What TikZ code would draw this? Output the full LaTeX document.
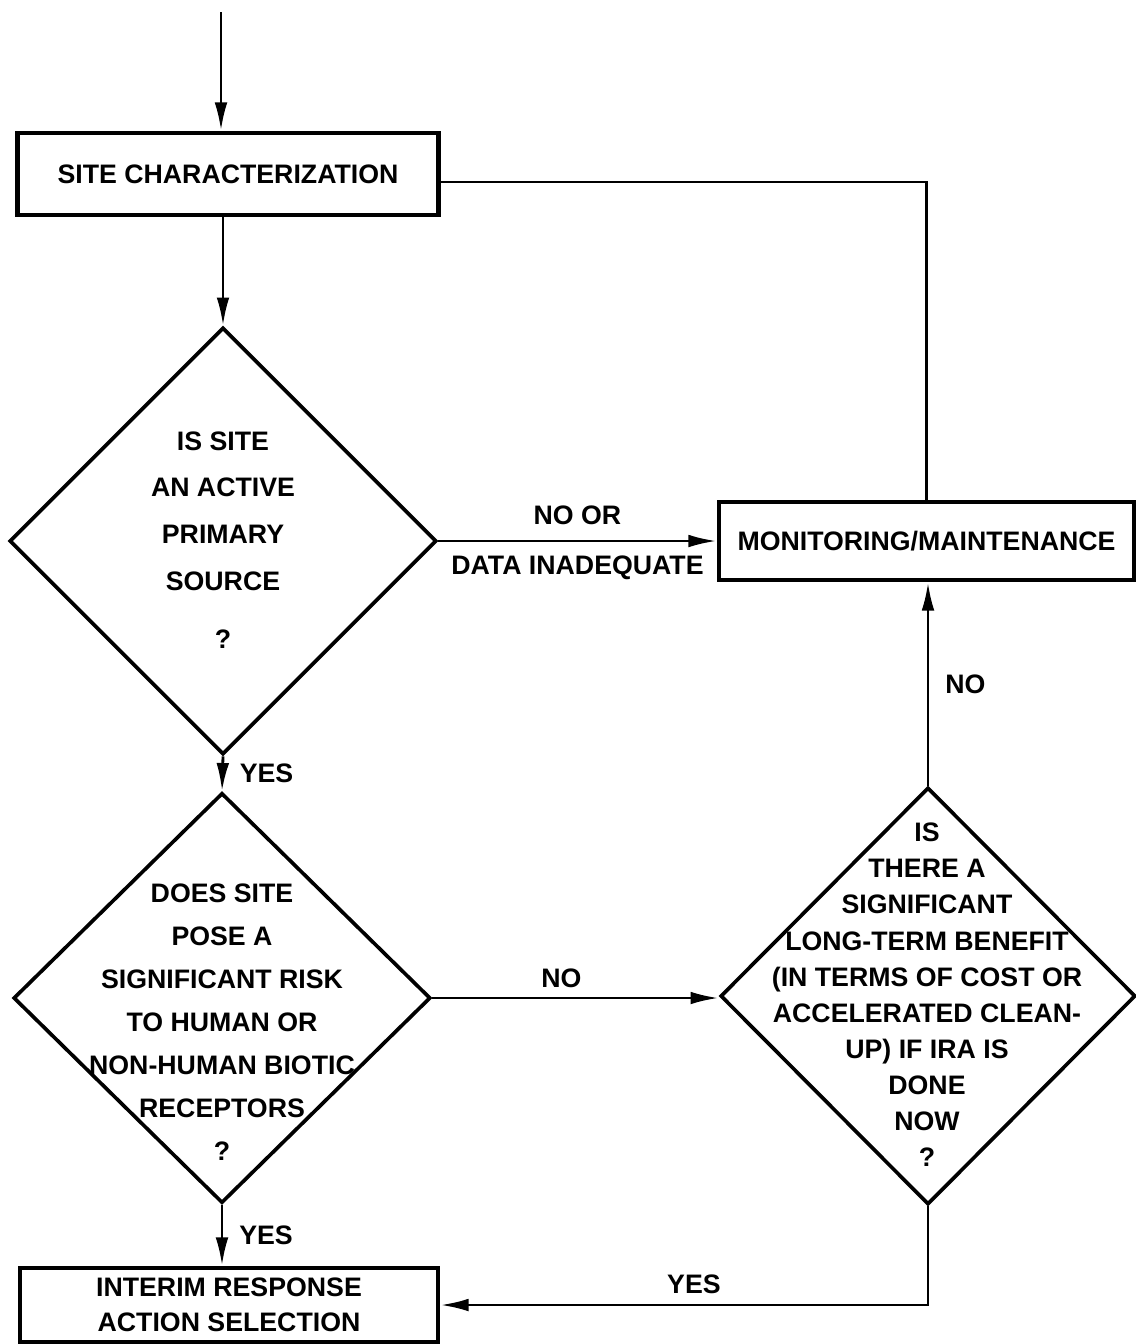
\documentclass[tikz,border=0pt]{standalone}
\usepackage{fontspec}
\setmainfont{Liberation Sans}
\usetikzlibrary{arrows.meta,shapes.geometric}

\newcommand\lettersize[1]{\bfseries\fontsize{19}{#1}\selectfont}

\begin{document}
\begin{tikzpicture}[x=0.025cm,y=-0.025cm,line width=2pt,
    every node/.style={font=\lettersize{24}},
    box/.style={draw,rectangle,line width=3.4pt,inner sep=0pt,align=center},
    query/.style={draw,diamond,line width=2.6pt,inner sep=0pt},
    flow/.style={-{Latex[length=20pt,width=9pt]}}]

  \useasboundingbox (0,0) rectangle (1136,1344);

  % The three boxes
  \node[box,minimum width=10.525cm,minimum height=2.05cm] (site) at (228,174) {SITE CHARACTERIZATION};
  \node[box,minimum width=10.375cm,minimum height=1.95cm] (monitor) at (926.5,541) {MONITORING/MAINTENANCE};
  \node[box,minimum width=10.45cm,minimum height=1.85cm,font=\lettersize{25}] (ira) at (229,1305)
    {INTERIM RESPONSE\\ACTION SELECTION};

  % The three questions
  \node[query,minimum width=10.675cm,minimum height=10.675cm] (active) at (223,541) {};
  \node[query,minimum width=10.425cm,minimum height=10.25cm] (risk) at (222,998) {};
  \node[query,minimum width=10.375cm,minimum height=10.425cm] (benefit) at (928,996) {};

  % Their texts, which run over the edges
  \node[align=center,font=\lettersize{33.3}] (activetext) at (223,540)
    {IS SITE\\AN ACTIVE\\PRIMARY\\SOURCE\\[8pt]?};
  \node[align=center,font=\lettersize{30.5}] (risktext) at (222,1022)
    {DOES SITE\\POSE A\\SIGNIFICANT RISK\\TO HUMAN OR\\NON-HUMAN BIOTIC\\RECEPTORS\\?};
  \node[align=center,font=\lettersize{25.7}] (benefittext) at (927,995)
    {IS\\THERE A\\SIGNIFICANT\\LONG-TERM BENEFIT\\(IN TERMS OF COST OR\\ACCELERATED CLEAN-\\UP) IF IRA IS\\DONE\\NOW\\?};

  % Connectors
  \coordinate (start) at (221,12);
  \draw[flow] (start) -- (start |- site.north);
  \draw[flow] (active.north |- site.south) -- (active.north);
  \draw ([yshift=-0.2cm]site.east) -| (monitor.north);
  \draw[flow] (active.east) -- node[above=7pt] {NO OR} node[below=6pt] {DATA INADEQUATE} (monitor.west);
  \draw[flow] (active.south) -- node[right=8pt] {YES} (risk.north);
  \draw[flow] (risk.east) -- node[above=3pt,xshift=-10pt] {NO} (risk.east -| benefit.west);
  \draw[flow] (benefit.north) -- node[right=8pt] {NO} (benefit.north |- monitor.south);
  \draw[flow] (risk.south) -- node[right=8pt] {YES} (risk.south |- ira.north);
  \draw[flow] (benefit.south) |- node[pos=0.74,above=4pt] {YES} (ira.east);

\end{tikzpicture}
\end{document}
